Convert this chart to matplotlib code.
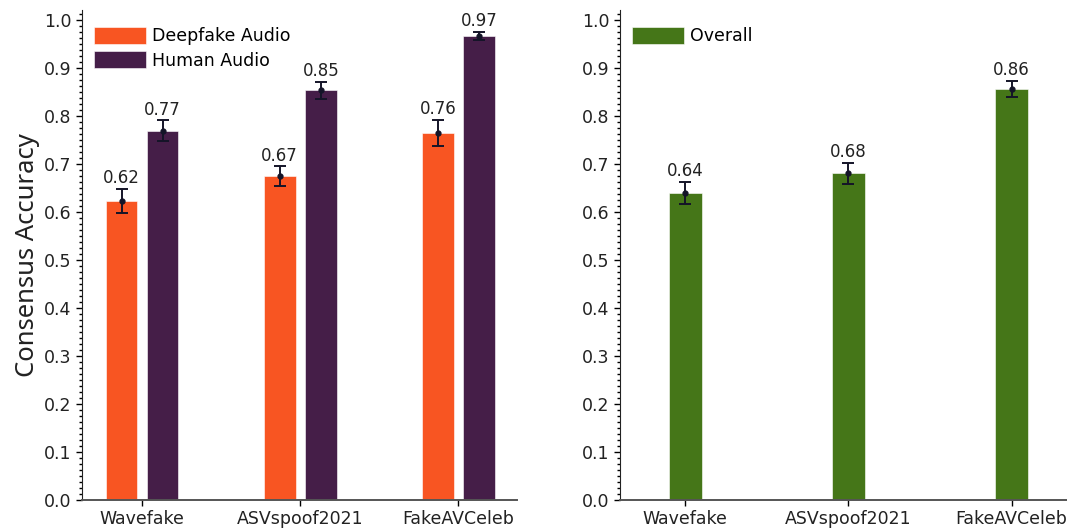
import matplotlib
matplotlib.use("Agg")
import matplotlib.pyplot as plt
import numpy as np
from matplotlib.ticker import MultipleLocator, AutoMinorLocator

datasets = ["Wavefake", "ASVspoof2021", "FakeAVCeleb"]

deepfake_acc = [0.623, 0.674, 0.764]
deepfake_err = [0.025, 0.021, 0.028]
human_acc = [0.769, 0.853, 0.966]
human_err = [0.022, 0.018, 0.009]
overall_acc = [0.640, 0.680, 0.856]
overall_err = [0.023, 0.022, 0.017]

c_fake = "#F85522"
c_human = "#451E48"
c_overall = "#457618"
c_err = "#141428"

plt.rcParams["font.family"] = "DejaVu Sans"

fig = plt.figure(figsize=(10.67, 5.32), dpi=100)
ax1 = fig.add_axes([82 / 1067, 32 / 532, 435 / 1067, 490 / 532])
ax2 = fig.add_axes([620 / 1067, 32 / 532, 447 / 1067, 490 / 532])

x = np.arange(len(datasets))
w = 0.2
off = 0.13

err_kw = dict(ecolor=c_err, elinewidth=1.4, capsize=4.5, capthick=1.4)


def label_bars(ax, xs, vals, errs):
    for xi, v, e in zip(xs, vals, errs):
        ax.errorbar(xi, v, yerr=e, fmt="o", color=c_err, markersize=3.5, **err_kw)
        ax.annotate(f"{v:.2f}", (xi, v + e), xytext=(0, 1), textcoords="offset points",
                    ha="center", va="bottom", fontsize=12, color="#222222")


ax1.bar(x - off, deepfake_acc, w, color=c_fake, label="Deepfake Audio",
        edgecolor="white", linewidth=0.4)
ax1.bar(x + off, human_acc, w, color=c_human, label="Human Audio",
        edgecolor="white", linewidth=0.4)
label_bars(ax1, x - off, deepfake_acc, deepfake_err)
label_bars(ax1, x + off, human_acc, human_err)

ax2.bar(x, overall_acc, w, color=c_overall, label="Overall",
        edgecolor="white", linewidth=0.4)
label_bars(ax2, x, overall_acc, overall_err)

ax1.set_xlim(-0.38, 2.37)
ax2.set_xlim(-0.4, 2.34)

for ax in (ax1, ax2):
    ax.set_ylim(0, 1.02)
    ax.set_xticks(x)
    ax.set_xticklabels(datasets, fontsize=12.5, color="#222222")
    ax.yaxis.set_major_locator(MultipleLocator(0.1))
    ax.yaxis.set_minor_locator(AutoMinorLocator(8))
    ax.tick_params(axis="y", labelsize=12.5, labelcolor="#222222", length=4, width=1)
    ax.tick_params(axis="y", which="minor", length=2.5, width=1)
    ax.tick_params(axis="x", length=4, width=1)
    ax.spines["top"].set_visible(False)
    ax.spines["right"].set_visible(False)
    ax.spines["left"].set_color("#222222")
    ax.spines["bottom"].set_color("#555555")
    ax.spines["bottom"].set_linewidth(1.4)
    ax.legend(loc="upper left", frameon=False, fontsize=12.5, handlelength=3.0,
              handleheight=1.1, borderaxespad=0.3, labelspacing=0.35,
              handletextpad=0.35, bbox_to_anchor=(0.0, 0.99))

ax1.set_ylabel("Consensus Accuracy", fontsize=18.5, family=["Noto Sans", "DejaVu Sans"],
               color="#222222", labelpad=3)

fig.savefig("out.png", dpi=100)
